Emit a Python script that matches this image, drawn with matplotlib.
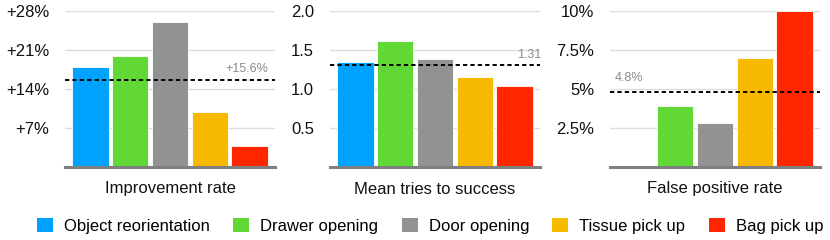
import matplotlib
matplotlib.use("Agg")
import matplotlib.pyplot as plt
from matplotlib.patches import Patch
import matplotlib.transforms as mtransforms

plt.rcParams['font.family'] = ['Liberation Sans', 'DejaVu Sans']

tasks = ["Object reorientation", "Drawer opening", "Door opening", "Tissue pick up", "Bag pick up"]
colors = ["#00A2FF", "#61D836", "#929292", "#F8BA00", "#FF2600"]

improvement = [17.9, 20.0, 26.0, 9.8, 3.8]
improvement_mean = 15.6
tries = [1.35, 1.61, 1.38, 1.16, 1.04]
tries_mean = 1.31
false_pos = [0.0, 3.9, 2.8, 7.0, 10.0]
false_pos_mean = 4.8

panels = [
    dict(vals=improvement, mean=improvement_mean, title="Improvement rate",
         ticks=[7, 14, 21, 28], labels=["+7%", "+14%", "+21%", "+28%"], ymax=28,
         mlabel="+15.6%", mx=0.967, ha="right", dy=11),
    dict(vals=tries, mean=tries_mean, title="Mean tries to success",
         ticks=[0.5, 1.0, 1.5, 2.0], labels=["0.5", "1.0", "1.5", "2.0"], ymax=2.0,
         mlabel="1.31", mx=1.005, ha="right", dy=10),
    dict(vals=false_pos, mean=false_pos_mean, title="False positive rate",
         ticks=[2.5, 5, 7.5, 10], labels=["2.5%", "5%", "7.5%", "10%"], ymax=10,
         mlabel="4.8%", mx=0.02, ha="left", dy=14),
]

W, H = 830, 240
fig = plt.figure(figsize=(W / 100, H / 100), dpi=100)
lefts = [65, 330, 610]
axw = 210
bottom_px = 167
top_px = 11

for left, p in zip(lefts, panels):
    ax = fig.add_axes([left / W, 1 - bottom_px / H, axw / W, (bottom_px - top_px) / H])
    x = list(range(len(tasks)))
    ax.bar(x, p["vals"], width=0.91, color=colors, edgecolor="white", linewidth=0.6, zorder=3)
    ax.set_xlim(-0.64, 4.64)
    ax.set_ylim(0, p["ymax"])
    ax.set_yticks(p["ticks"])
    ax.set_yticklabels(p["labels"])
    ax.set_xticks([])
    ax.tick_params(axis="y", length=0, pad=11.5, labelsize=12, colors="#111111")
    for s in ax.spines.values():
        s.set_visible(False)
    ax.yaxis.grid(True, color="#dcdcdc", linewidth=1.0, zorder=0)
    ax.set_axisbelow(True)
    ax.axhline(0, color="#7f7f7f", linewidth=2.2, zorder=4, clip_on=False)
    ax.axhline(p["mean"], color="black", linewidth=1.4, linestyle=(0, (2.2, 1.6)), zorder=5)
    off = mtransforms.offset_copy(ax.get_yaxis_transform(), fig=fig, x=0, y=p["dy"] * 0.72, units="points")
    ax.text(p["mx"], p["mean"], p["mlabel"], transform=off,
            ha=p["ha"], va="center", fontsize=9, color="#8a8a8a")
    ax.text(0.5, -22 / 156, p["title"], transform=ax.transAxes, ha="center", va="center",
            fontsize=12, color="#111111")

handles = [Patch(facecolor=c, edgecolor="none") for c in colors]
fig.legend(handles, tasks, loc="center left", bbox_to_anchor=(37 / W, 1 - 226 / H), ncol=5,
           frameon=False, fontsize=12, handlelength=0.96, handleheight=0.9,
           handletextpad=0.66, columnspacing=1.4, borderaxespad=0, borderpad=0)

fig.savefig("out.png", dpi=100)
